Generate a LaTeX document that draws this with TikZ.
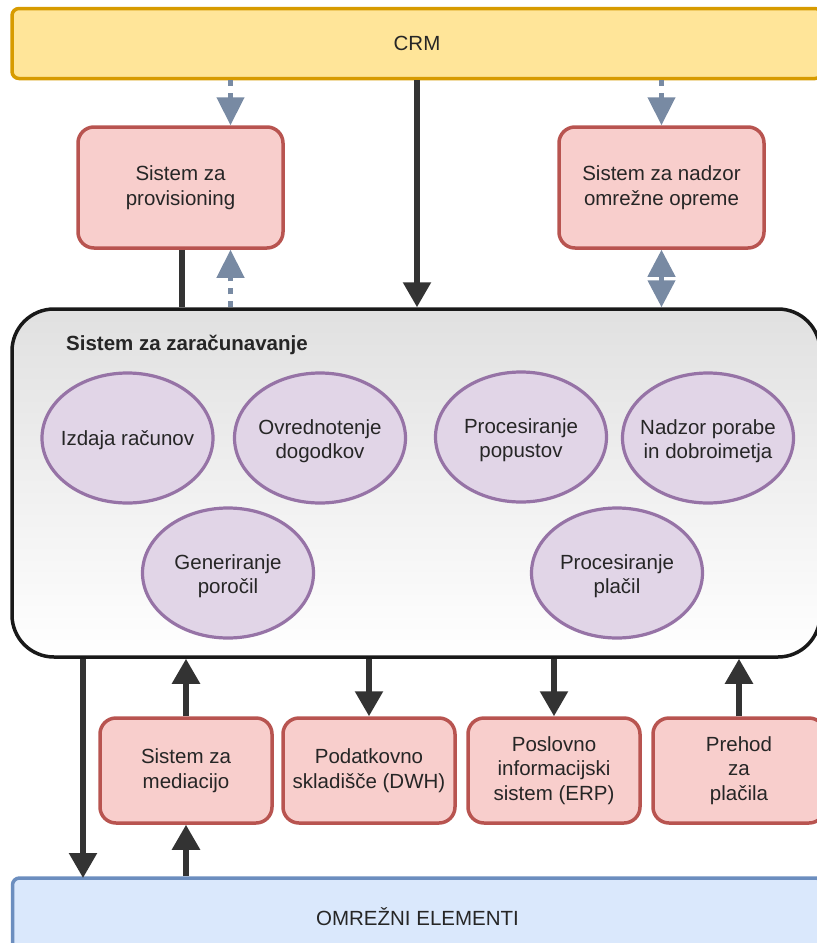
\documentclass[tikz,border=0pt]{standalone}
\usepackage{fontspec}
\setmainfont{Liberation Sans}
\usetikzlibrary{arrows.meta,shapes.geometric}

\definecolor{crmfill}{HTML}{FFE599}
\definecolor{crmline}{HTML}{D79B00}
\definecolor{redfill}{HTML}{F8CECC}
\definecolor{redline}{HTML}{B85450}
\definecolor{violetfill}{HTML}{E1D5E7}
\definecolor{violetline}{HTML}{9673A6}
\definecolor{bluefill}{HTML}{DAE8FC}
\definecolor{blueline}{HTML}{6C8EBF}
\definecolor{arrowgray}{HTML}{333333}
\definecolor{dotblue}{HTML}{788AA3}

\begin{document}
\begin{tikzpicture}[
    x=1pt, y=-1pt,
    % Define styles
    every node/.style={
        font=\fontsize{20.5}{24.5}\selectfont,
        text=black!85
    },
    widebox/.style={
        rectangle,
        rounded corners=7pt,
        line width=3.5pt,
        minimum width=810pt,
        minimum height=70pt
    },
    sysbox/.style={
        rectangle,
        draw=redline,
        fill=redfill,
        line width=3.5pt,
        rounded corners=16pt,
        align=center,
        minimum width=205pt,
        minimum height=121pt
    },
    smallbox/.style={
        sysbox,
        minimum width=172pt,
        minimum height=105pt
    },
    billingbox/.style={
        rectangle,
        draw=black!90,
        line width=3.5pt,
        rounded corners=42pt,
        top color=black!12,
        bottom color=white,
        minimum width=808pt,
        minimum height=348pt
    },
    func/.style={
        ellipse,
        draw=violetline,
        fill=violetfill,
        line width=3.2pt,
        minimum width=171pt,
        minimum height=130pt
    },
    functext/.style={
        align=center,
        yshift=-3pt
    },
    arrow/.style={
        -{Triangle[width=27pt,length=25pt]},
        line width=5.5pt,
        draw=arrowgray
    },
    dotarrow/.style={
        -{Triangle[width=27pt,length=28pt]},
        line width=4.5pt,
        draw=dotblue,
        dash pattern=on 6pt off 7pt
    }
]

% Picture frame
\useasboundingbox (0,0) rectangle (817,943);
\clip (0,0) rectangle (817,943);

% Draw CRM
\node[widebox, draw=crmline, fill=crmfill] (crm) at (417,43.5) {CRM};

% Draw the two side systems
\node[sysbox] (prov) at (180.5,187.5) {Sistem za\\provisioning};
\node[sysbox] (nadzor) at (661.5,187.5) {Sistem za nadzor\\omrežne opreme};

% Draw billing system
\node[billingbox] (billing) at (416,483) {};
\node[font=\bfseries\fontsize{20.5}{24.5}\selectfont, anchor=west, inner sep=0pt] (billtitle) at (66,345) {Sistem za zaračunavanje};

% Functions inside billing
\node[func] (izdaja) at (127.5,438) {};
\node[functext, yshift=1pt] (izdajatext) at (izdaja) {Izdaja računov};
\node[func] (ovred) at (320,438) {};
\node[functext] (ovredtext) at (ovred) {Ovrednotenje\\dogodkov};
\node[func] (popusti) at (521,437) {};
\node[functext] (popustitext) at (popusti) {Procesiranje\\popustov};
\node[func] (porabe) at (708,438) {};
\node[functext] (porabetext) at (porabe) {Nadzor porabe\\in dobroimetja};
\node[func] (porocila) at (228,573) {};
\node[functext] (porocilatext) at (porocila) {Generiranje\\poročil};
\node[func] (placila) at (617,573) {};
\node[functext] (placilatext) at (placila) {Procesiranje\\plačil};

% Lower systems
\node[smallbox] (mediacija) at (186,770.5) {Sistem za\\mediacijo};
\node[smallbox] (dwh) at (369,770.5) {Podatkovno\\skladišče (DWH)};
\node[smallbox] (erp) at (554,770.5) {Poslovno\\informacijski\\sistem (ERP)};
\node[smallbox] (prehod) at (739,770.5) {Prehod\\za\\plačila};

% Network elements
\node[widebox, draw=blueline, fill=bluefill, minimum height=78pt] (omrezje) at (417.5,917) {OMREŽNI ELEMENTI};

% Free ends
\coordinate (provIn) at ([xshift=50pt]prov.north);
\coordinate (provUp) at ([xshift=50pt]prov.south);
\coordinate (provOut) at ([xshift=1.5pt]prov.south);
\coordinate (netIn) at (83,878);

% Connectors at the top
\draw[dotarrow] (crm.south -| provIn) -- (provIn);
\draw[dotarrow] (crm.south -| nadzor.north) -- (nadzor.north);
\draw[arrow] (crm.south) -- (billing.north -| crm.south);
\draw[line width=6pt, draw=arrowgray] (provOut) -- (billing.north -| provOut);
\draw[dotarrow] (billing.north -| provUp) -- (provUp);
\draw[{Triangle[width=27pt,length=27pt]}-{Triangle[width=27pt,length=27pt]}, line width=4.5pt, draw=dotblue] (nadzor.south) -- (billing.north -| nadzor.south);

% Connectors at the bottom
\draw[arrow] (billing.south -| netIn) -- (netIn);
\draw[arrow] (mediacija.north) -- (billing.south -| mediacija.north);
\draw[arrow] (omrezje.north -| mediacija.south) -- (mediacija.south);
\draw[arrow] (billing.south -| dwh.north) -- (dwh.north);
\draw[arrow] (billing.south -| erp.north) -- (erp.north);
\draw[arrow] (prehod.north) -- (billing.south -| prehod.north);

\end{tikzpicture}
\end{document}
